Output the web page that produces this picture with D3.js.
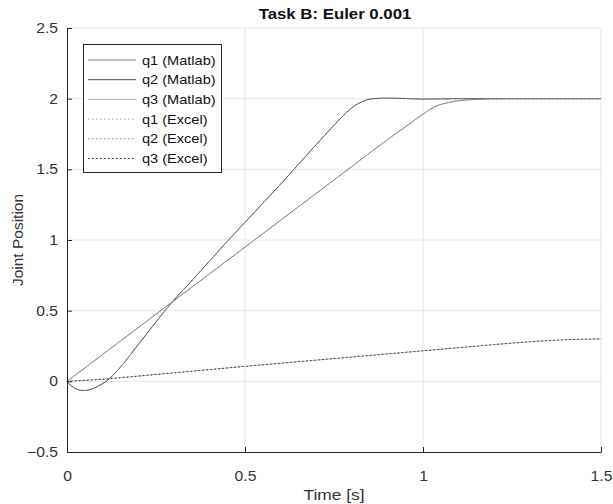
<!DOCTYPE html>
<html>
<head>
<meta charset="utf-8">
<script src="https://cdn.jsdelivr.net/npm/d3@7"></script>
<style>
  html, body { margin: 0; padding: 0; background: #fff; }
  svg { display: block; font-family: "Liberation Sans", Arial, Helvetica, sans-serif; }
</style>
</head>
<body>
<svg id="chart" width="613" height="504"></svg>
<script>
// ---- data ----
const titleText = "Task B: Euler 0.001";
const xLabel = "Time [s]";
const yLabel = "Joint Position";
const xTicks = [0, 0.5, 1, 1.5];
const yTicks = [-0.5, 0, 0.5, 1, 1.5, 2, 2.5];

const q1Time = [0, 0.1, 0.2, 0.3, 0.4, 0.5, 0.6, 0.7, 0.8, 0.9, 0.95, 0.98, 1.0, 1.02, 1.04, 1.07, 1.1, 1.15, 1.22, 1.5];
const q1Vals = [0, 0.19, 0.38, 0.57, 0.76, 0.95, 1.14, 1.33, 1.52, 1.71, 1.8, 1.855, 1.89, 1.925, 1.95, 1.972, 1.985, 1.995, 2.0, 2.0];

const q2Time = [0, 0.01, 0.02, 0.03, 0.045, 0.06, 0.075, 0.09, 0.11, 0.13, 0.16, 0.2, 0.25, 0.3, 0.35, 0.4, 0.45, 0.5, 0.55, 0.6, 0.65, 0.7, 0.74, 0.77, 0.8, 0.83, 0.86, 0.9, 0.95, 1.0, 1.05, 1.1, 1.2, 1.5];
const q2Vals = [0, -0.027, -0.046, -0.058, -0.065, -0.061, -0.049, -0.03, 0.0, 0.045, 0.13, 0.26, 0.42, 0.575, 0.71, 0.85, 0.99, 1.125, 1.26, 1.395, 1.535, 1.675, 1.785, 1.865, 1.935, 1.98, 2.0, 2.004, 2.001, 1.997, 1.998, 2.0, 2.0, 2.0];

const q3Time = [0, 0.1, 0.2, 0.3, 0.4, 0.5, 0.6, 0.7, 0.8, 0.9, 1.0, 1.1, 1.2, 1.3, 1.4, 1.45, 1.5];
const q3Vals = [0, 0.015, 0.037, 0.06, 0.083, 0.106, 0.128, 0.15, 0.172, 0.194, 0.216, 0.238, 0.26, 0.28, 0.294, 0.298, 0.3];

// Excel results coincide with the Matlab results in the picture
const q1ExcelVals = q1Vals.slice();
const q2ExcelVals = q2Vals.slice();
const q3ExcelVals = q3Vals.slice();

const seriesNames = ["q1 (Matlab)", "q2 (Matlab)", "q3 (Matlab)", "q1 (Excel)", "q2 (Excel)", "q3 (Excel)"];

// ---- layout ----
const svg = d3.select("#chart");
const mLeft = 67, mRight = 601, mTop = 28, mBottom = 452;
const x = d3.scaleLinear().domain([0, 1.5]).range([mLeft, mRight]);
const y = d3.scaleLinear().domain([-0.5, 2.5]).range([mBottom, mTop]);
const axisColor = "#262626";
const stretch = 1.12; // glyphs in the reference are slightly wide

// grid
const grid = svg.append("g");
grid.selectAll("line.gx").data(xTicks.filter(d => d > 0)).join("line")
  .attr("x1", d => x(d)).attr("x2", d => x(d)).attr("y1", mTop).attr("y2", mBottom)
  .attr("stroke", "#e6e6e6").attr("stroke-width", 1);
grid.selectAll("line.gy").data(yTicks.filter(d => d > -0.5)).join("line")
  .attr("y1", d => y(d)).attr("y2", d => y(d)).attr("x1", mLeft).attr("x2", mRight)
  .attr("stroke", "#e6e6e6").attr("stroke-width", 1);

// series
const mk = (ts, vs) => ts.map((t, i) => [t, vs[i]]);
const series = [
  { data: mk(q1Time, q1Vals), color: "#7a7a7a", dash: null, w: 1 },
  { data: mk(q2Time, q2Vals), color: "#4a4a4a", dash: null, w: 1 },
  { data: mk(q3Time, q3Vals), color: "#b8b8b8", dash: null, w: 1 },
  { data: mk(q1Time, q1ExcelVals), color: "#a0a0a0", dash: "1.5,2.5", w: 1 },
  { data: mk(q2Time, q2ExcelVals), color: "#8a8a8a", dash: "1.5,2.5", w: 1 },
  { data: mk(q3Time, q3ExcelVals), color: "#303030", dash: "1.5,2.5", w: 1 }
];
const line = d3.line().x(d => x(d[0])).y(d => y(d[1])).curve(d3.curveMonotoneX);
svg.append("g").selectAll("path").data(series).join("path")
  .attr("d", d => line(d.data))
  .attr("fill", "none")
  .attr("stroke", d => d.color)
  .attr("stroke-width", d => d.w)
  .attr("stroke-dasharray", d => d.dash);

// axes
const xAxis = d3.axisBottom(x).tickValues(xTicks).tickFormat(d3.format("")).tickSizeInner(-5).tickSizeOuter(0).tickPadding(19);
const yAxis = d3.axisLeft(y).tickValues(yTicks).tickFormat(d3.format("")).tickSizeInner(-5).tickSizeOuter(0).tickPadding(9);
const gx = svg.append("g").attr("transform", `translate(0,${mBottom})`).call(xAxis);
const gy = svg.append("g").attr("transform", `translate(${mLeft},0)`).call(yAxis);
[gx, gy].forEach(g => {
  g.select(".domain").attr("stroke", axisColor);
  g.selectAll(".tick line").attr("stroke", axisColor);
  g.selectAll(".tick text").attr("fill", "#333").style("font-size", "14px")
    .style("font-family", "'Liberation Sans', Arial, sans-serif");
});
gx.selectAll(".tick text").attr("transform", `scale(${stretch},1)`);
gy.selectAll(".tick text").attr("x", -9 / stretch).attr("transform", `scale(${stretch},1)`);

// labels
const cx = (mLeft + mRight) / 2;
svg.append("text").attr("transform", `translate(${cx + 1},19) scale(${stretch},1)`).attr("text-anchor", "middle")
  .style("font-size", "15px").style("font-weight", "bold").attr("fill", "#111").text(titleText);
svg.append("text").attr("transform", `translate(${cx},500) scale(${stretch},1)`).attr("text-anchor", "middle")
  .style("font-size", "15.5px").attr("fill", "#333").text(xLabel);
svg.append("text").attr("transform", `translate(23,${(mTop + mBottom) / 2}) rotate(-90)`).attr("text-anchor", "middle")
  .style("font-size", "15.5px").attr("fill", "#333").text(yLabel);

// legend
const lg = svg.append("g");
lg.append("rect").attr("x", 83.5).attr("y", 44.5).attr("width", 138).attr("height", 128)
  .attr("fill", "#fff").attr("stroke", axisColor).attr("stroke-width", 1);
const rowY = i => 60 + i * 19.7;
lg.selectAll("line").data(series).join("line")
  .attr("x1", 88).attr("x2", 136)
  .attr("y1", (d, i) => rowY(i)).attr("y2", (d, i) => rowY(i))
  .attr("stroke", d => d.color).attr("stroke-width", d => d.w).attr("stroke-dasharray", d => d.dash);
lg.selectAll("text").data(seriesNames).join("text")
  .attr("transform", (d, i) => `translate(142,${rowY(i)}) scale(${stretch},1)`).attr("dy", "0.35em")
  .style("font-size", "13px").attr("fill", "#111").text(d => d);
</script>
</body>
</html>
